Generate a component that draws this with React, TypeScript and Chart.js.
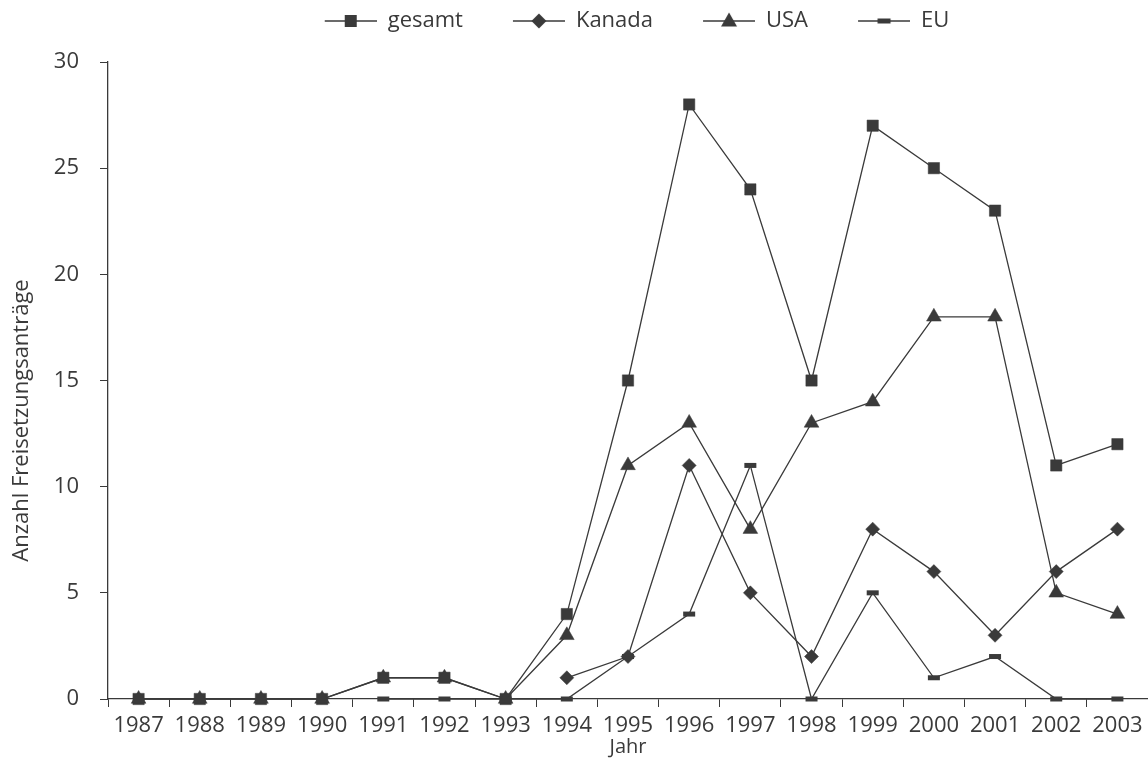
import React, { useEffect, useRef } from 'react';
import { Chart, registerables } from 'chart.js';

Chart.register(...registerables);

const years = ['1987', '1988', '1989', '1990', '1991', '1992', '1993', '1994', '1995', '1996', '1997', '1998', '1999', '2000', '2001', '2002', '2003'];
const gesamt = [0, 0, 0, 0, 1, 1, 0, 4, 15, 28, 24, 15, 27, 25, 23, 11, 12];
const kanada = [null, null, null, null, null, null, null, 1, 2, 11, 5, 2, 8, 6, 3, 6, 8];
const usa = [0, 0, 0, 0, 1, 1, 0, 3, 11, 13, 8, 13, 14, 18, 18, 5, 4];
const eu = [null, null, null, null, 0, 0, 0, 0, 2, 4, 11, 0, 5, 1, 2, 0, 0];
const yTicks = [0, 5, 10, 15, 20, 25, 30];

const INK = '#3a3a3a';
const FONT = "'Open Sans', 'Noto Sans', sans-serif";
const ICON_MARGIN = 40;
const ICON_LINE = 52;

function makeIcon(kind: string): HTMLCanvasElement {
  const c = document.createElement('canvas');
  const w = ICON_MARGIN + ICON_LINE;
  const h = 22;
  c.width = w;
  c.height = h;
  const ctx = c.getContext('2d')!;
  const cy = h / 2;
  const cx = ICON_MARGIN + ICON_LINE / 2;
  ctx.strokeStyle = INK;
  ctx.fillStyle = INK;
  ctx.lineWidth = 1.3;
  ctx.beginPath();
  ctx.moveTo(ICON_MARGIN, cy);
  ctx.lineTo(w, cy);
  ctx.stroke();
  ctx.beginPath();
  if (kind === 'square') {
    ctx.rect(cx - 6, cy - 6, 12, 12);
  } else if (kind === 'diamond') {
    ctx.moveTo(cx - 7.5, cy);
    ctx.lineTo(cx, cy - 7.5);
    ctx.lineTo(cx + 7.5, cy);
    ctx.lineTo(cx, cy + 7.5);
    ctx.closePath();
  } else if (kind === 'triangle') {
    ctx.moveTo(cx, cy - 8.5);
    ctx.lineTo(cx + 8, cy + 5.5);
    ctx.lineTo(cx - 8, cy + 5.5);
    ctx.closePath();
  } else {
    ctx.rect(cx - 6.5, cy - 2.5, 13, 5);
  }
  ctx.fill();
  return c;
}

export default function App() {
  const canvasRef = useRef<HTMLCanvasElement | null>(null);

  useEffect(() => {
    const canvas = canvasRef.current;
    if (!canvas) return;
    const icons = [makeIcon('square'), makeIcon('diamond'), makeIcon('triangle'), makeIcon('eu')];

    const legendSpacer = {
      id: 'legendSpacer',
      beforeLayout(chart: any) {
        const lg = chart.legend;
        if (lg && !lg._patched) {
          const orig = lg.fit;
          lg.fit = function () {
            orig.call(this);
            this.height += 20;
          };
          lg._patched = true;
        }
      },
      afterLayout(chart: any) {
        const lg = chart.legend;
        if (lg) {
          lg.left -= 11;
          lg.right -= 11;
        }
      },
    };

    const base = {
      borderColor: INK,
      borderWidth: 1.3,
      pointBackgroundColor: INK,
      pointBorderColor: INK,
      pointBorderWidth: 0.5,
      spanGaps: false,
      tension: 0,
      fill: false,
      clip: false,
    };

    const chart = new Chart(canvas, {
      type: 'line',
      data: {
        labels: years,
        datasets: [
          { ...base, label: 'gesamt', data: gesamt, pointStyle: 'rect', pointRadius: 8, order: 1 },
          { ...base, label: 'Kanada', data: kanada, pointStyle: 'rectRot', pointRadius: 7, order: 1 },
          { ...base, label: 'USA', data: usa, pointStyle: 'triangle', pointRadius: 8.5, order: 0 },
          { ...base, label: 'EU', data: eu, pointStyle: 'line', pointRadius: 6, pointBorderWidth: 5, order: 1 },
        ] as any,
      },
      options: {
        animation: false,
        responsive: false,
        maintainAspectRatio: false,
        layout: { autoPadding: false, padding: { left: 0, right: 0, top: 0, bottom: 0 } },
        plugins: {
          tooltip: { enabled: false },
          legend: {
            display: true,
            position: 'top',
            fullSize: false,
            align: 'center',
            labels: {
              usePointStyle: true,
              pointStyleWidth: ICON_MARGIN + ICON_LINE,
              boxHeight: 22,
              padding: 10,
              color: INK,
              font: { family: FONT, size: 22 },
              generateLabels(ch: any) {
                return ch.data.datasets.map((ds: any, i: number) => ({
                  text: ds.label,
                  pointStyle: icons[i],
                  fillStyle: INK,
                  strokeStyle: INK,
                  lineWidth: 0,
                  hidden: false,
                  datasetIndex: i,
                  fontColor: INK,
                }));
              },
            },
          },
        },
        scales: {
          x: {
            type: 'category',
            offset: true,
            border: { display: true, color: INK, width: 1.3 },
            grid: { display: true, drawOnChartArea: false, drawTicks: true, tickLength: 8, color: INK, offset: true },
            ticks: { autoSkip: false, maxRotation: 0, minRotation: 0, padding: 6, color: INK, font: { family: FONT, size: 22 } },
            title: { display: true, text: 'Jahr', color: INK, font: { family: FONT, size: 20 }, padding: { top: 0, bottom: 7 } },
            afterFit(scale: any) {
              scale.height = 67;
              scale.paddingLeft = 0;
              scale.paddingRight = 0;
            },
          },
          y: {
            min: 0,
            max: 30,
            afterBuildTicks(scale: any) {
              scale.ticks = yTicks.map((v) => ({ value: v }));
            },
            border: { display: true, color: INK, width: 1.3 },
            grid: { display: true, drawOnChartArea: false, drawTicks: true, tickLength: 8, color: INK },
            ticks: { padding: 21, color: INK, font: { family: FONT, size: 22 } },
            title: {
              display: true,
              text: 'Anzahl Freisetzungsanträge' + '              ',
              color: INK,
              font: { family: FONT, size: 22 },
              padding: { top: 9, bottom: 4 },
            },
            afterFit(scale: any) {
              scale.width = 108;
            },
          },
        },
      } as any,
      plugins: [legendSpacer],
    });

    return () => {
      chart.destroy();
    };
  }, []);

  return (
    <div style={{ position: 'absolute', left: 0, top: 0, width: 1148, height: 766, background: '#fff' }}>
      <canvas ref={canvasRef} width={1148} height={766} style={{ width: 1148, height: 766, display: 'block' }} />
    </div>
  );
}
